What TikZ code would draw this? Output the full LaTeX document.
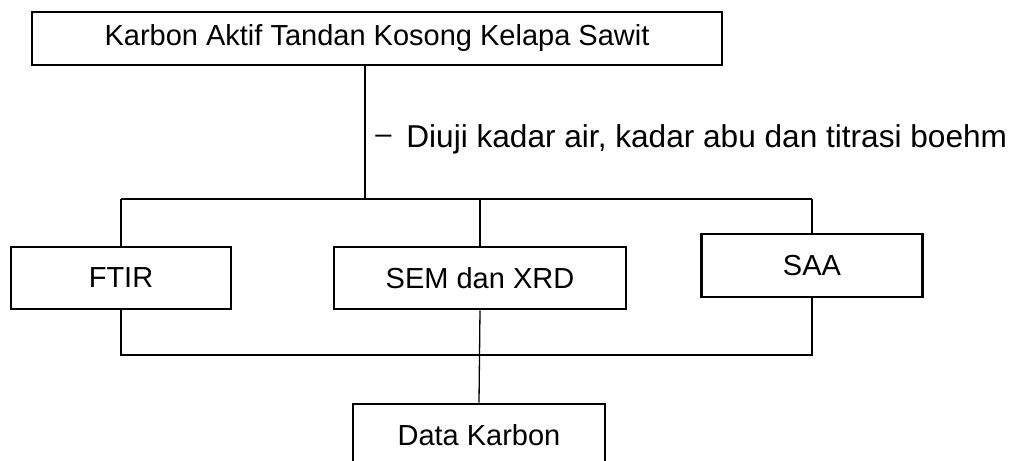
\documentclass[tikz,border=0pt]{standalone}
\usepackage{fontspec}
\setmainfont{Liberation Sans}
\usepackage{tikz}
\usetikzlibrary{positioning}

\begin{document}
\begin{tikzpicture}[x=0.5pt, y=-0.5pt,
  box/.style={rectangle, draw=black, line width=1.4pt, inner sep=0pt, font=\fontsize{14.5}{17}\selectfont},
  link/.style={draw=black, line width=0.65pt}]
\useasboundingbox (0,0) rectangle (1025,461);
\clip (0,0) rectangle (1025,461);

\node (karbon) [box, minimum width=345pt, minimum height=26.5pt] at (377,38.5) {Karbon Aktif Tandan Kosong Kelapa Sawit};
\node (ftir) [box, minimum width=110pt, minimum height=31pt] at (121,278) {FTIR};
\node (sem) [box, minimum width=146pt, minimum height=31pt] at (480,278) {SEM dan XRD};
\node (saa) [box, minimum width=110.5pt, minimum height=31.5pt] at (812,265.5) {SAA};
\node (data) [box, minimum width=126pt, minimum height=31pt] at (479,435) {Data Karbon};

% keterangan uji
\node (dash) [anchor=west, inner sep=0pt, font=\fontsize{14.5}{17}\selectfont] at (375,139) {--};
\node (uji) [anchor=west, inner sep=0pt, font=\fontsize{15.8}{18}\selectfont] at (406,139) {Diuji kadar air, kadar abu dan titrasi boehm};

\coordinate (split) at (365,199);
\coordinate (join) at (481,355);

\draw[link] (karbon.south -| split) -- (split);
\draw[link] (ftir.north |- split) -- (saa.north |- split);
\draw[link] (ftir.north |- split) -- (ftir.north);
\draw[link] (sem.north |- split) -- (sem.north);
\draw[link] (saa.north |- split) -- (saa.north);

\draw[link] (ftir.south) -- (ftir.south |- join) -- (saa.south |- join) -- (saa.south);
\draw[link] (sem.south) -- (data.north);
\end{tikzpicture}
\end{document}
